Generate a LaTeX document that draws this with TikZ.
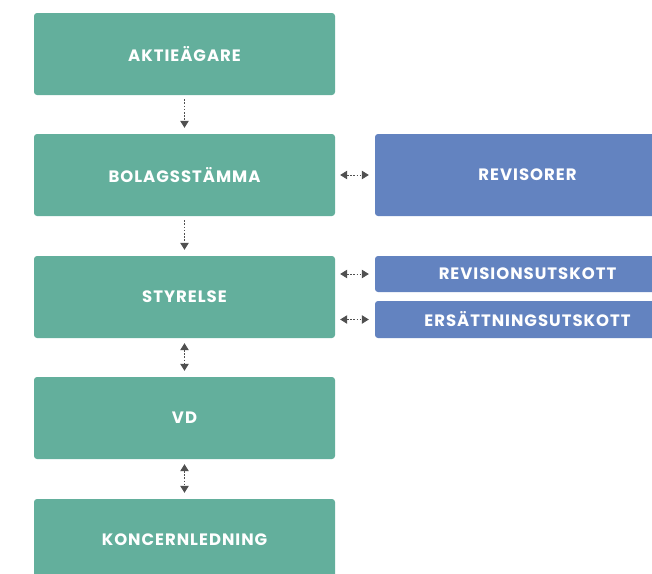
\documentclass[tikz,border=0pt]{standalone}
\usepackage{fontspec}
\setmainfont{Poppins}[LetterSpace=6]
\usetikzlibrary{arrows.meta}
\definecolor{grn}{HTML}{63AF9C}
\definecolor{blu}{HTML}{6383C0}
\definecolor{arr}{HTML}{505050}
\tikzset{
  gbox/.style={fill=grn, rounded corners=3pt, minimum width=301pt, minimum height=82pt, inner sep=0pt, text=white, font=\fontsize{16.5}{18}\selectfont\bfseries},
  bbox/.style={fill=blu, rounded corners=3pt, minimum width=305pt, inner sep=0pt, text=white, font=\fontsize{16.5}{18}\selectfont\bfseries},
  conn/.style={arr, line width=0.8pt, dash pattern=on 1.6pt off 1.6pt},
  tip/.style={-{Triangle[width=8.5pt,length=7pt]}},
  dtip/.style={{Triangle[width=8.5pt,length=7pt]}-{Triangle[width=8.5pt,length=7pt]}}
}
\begin{document}
\begin{tikzpicture}[x=1pt,y=-1pt]
\useasboundingbox (0,0) rectangle (652,573);
\clip (0,0) rectangle (652,573);
\node[gbox] (a) at (184.5,54) {AKTIEÄGARE};
\node[gbox] (b) at (184.5,175) {BOLAGSSTÄMMA};
\node[gbox] (s) at (184.5,297) {STYRELSE};
\node[gbox] (v) at (184.5,418) {VD};
\node[gbox] (k) at (184.5,540) {KONCERNLEDNING};
\node[bbox, minimum height=82pt] (r) at (527.5,175) {REVISORER};
\node[bbox, minimum height=36pt] (ru) at (527.5,274) {REVISIONSUTSKOTT};
\node[bbox, minimum height=37pt] (eu) at (527.5,319.5) {ERSÄTTNINGSUTSKOTT};
\draw[conn, tip, shorten <=4pt, shorten >=6pt] (a.south) -- (b.north);
\draw[conn, tip, shorten <=4pt, shorten >=6pt] (b.south) -- (s.north);
\draw[conn, dtip, shorten <=5pt, shorten >=6pt] (s.south) -- (v.north);
\draw[conn, dtip, shorten <=5pt, shorten >=6pt] (v.south) -- (k.north);
\draw[conn, dtip, shorten <=5pt, shorten >=6pt] (b.east) -- (r.west);
\draw[conn, dtip, shorten <=5pt, shorten >=6pt] (s.east |- ru.west) -- (ru.west);
\draw[conn, dtip, shorten <=5pt, shorten >=6pt] (s.east |- eu.west) -- (eu.west);
\end{tikzpicture}
\end{document}
